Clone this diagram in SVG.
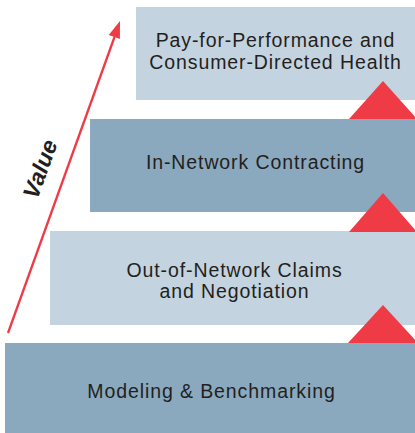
<svg xmlns="http://www.w3.org/2000/svg" width="415" height="433" viewBox="0 0 415 433">
  <defs>
    <style>
      .light { fill: #c3d3df; }
      .dark { fill: #8aa9be; }
      .label { font-family: "Liberation Sans", Arial, sans-serif; font-size: 19.5px; letter-spacing: 0.9px; fill: #231f20; text-anchor: middle; }
      .step { fill: #ef3b45; }
      .value { font-family: "Liberation Sans", Arial, sans-serif; font-size: 23px; font-weight: bold; font-style: italic; fill: #231f20; text-anchor: middle; }
    </style>
  </defs>
  <rect width="415" height="433" fill="#ffffff"/>

  <!-- stair blocks, top to bottom -->
  <g id="pay-for-performance">
    <rect class="light" x="136" y="7" width="279" height="93"/>
    <text class="label" x="275.5" y="47">Pay-for-Performance and</text>
    <text class="label" x="275.5" y="69">Consumer-Directed Health</text>
  </g>
  <g id="in-network">
    <rect class="dark" x="90" y="119" width="325" height="93"/>
    <text class="label" x="255.5" y="169">In-Network Contracting</text>
  </g>
  <g id="out-of-network">
    <rect class="light" x="50" y="231" width="365" height="94"/>
    <text class="label" x="234.5" y="277">Out-of-Network Claims</text>
    <text class="label" x="234.5" y="298">and Negotiation</text>
  </g>
  <g id="modeling">
    <rect class="dark" x="5" y="343" width="410" height="90"/>
    <text class="label" x="211.5" y="398">Modeling &amp; Benchmarking</text>
  </g>

  <!-- step-up markers and the value arrow -->
  <g id="connectors">
    <polygon class="step" points="383,81 349,119 417,119"/>
    <polygon class="step" points="383,193 349,232 417,232"/>
    <polygon class="step" points="383,305 348,343 418,343"/>
    <line x1="8" y1="333" x2="114.5" y2="37" stroke="#ef3b45" stroke-width="2.3"/>
    <polygon fill="#ef3b45" points="120,21 108.7,35 119.9,39"/>
  </g>

  <g id="value-label">
    <text class="value" transform="translate(40,169) rotate(-70)" x="0" y="8">Value</text>
  </g>
</svg>
